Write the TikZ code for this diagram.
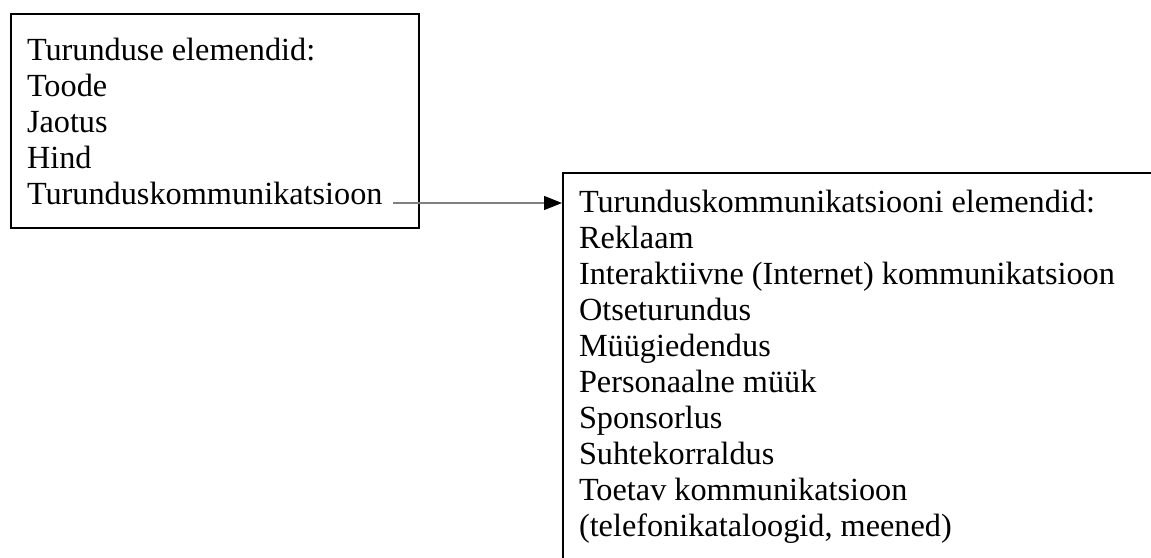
\documentclass[tikz,border=0pt]{standalone}
\usepackage{fontspec}
\setmainfont{Liberation Serif}
\usetikzlibrary{arrows.meta}

\begin{document}
\begin{tikzpicture}[x=0.75pt,y=-0.75pt,line cap=butt,line join=miter,
  kast/.style={draw,line width=1.5pt,anchor=north west,align=flush left,inner xsep=12pt,inner ysep=13pt,font=\fontsize{24.2}{27}\selectfont}]
\useasboundingbox (0,0) rectangle (1151,557);
\clip (0,0) rectangle (1151,557);
\node[kast,text width=282pt,minimum height=160.5pt] (turundus) at (10,13) {Turunduse elemendid:\\Toode\\Jaotus\\Hind\\Turunduskommunikatsioon};
\node[kast,text width=440pt] (kommelem) at (562,172) {Turunduskommunikatsiooni elemendid:\\Reklaam\\Interaktiivne (Internet) kommunikatsioon\\Otseturundus\\M\"u\"ugiedendus\\Personaalne m\"u\"uk\\Sponsorlus\\Suhtekorraldus\\Toetav kommunikatsioon\\(telefonikataloogid, meened)};
\coordinate (kstart) at (393,203);
\draw[-{Triangle[length=13.5pt,width=10.5pt,color=black]},line width=1pt,black!50] (kstart) -- (kstart -| kommelem.west);
\end{tikzpicture}
\end{document}
